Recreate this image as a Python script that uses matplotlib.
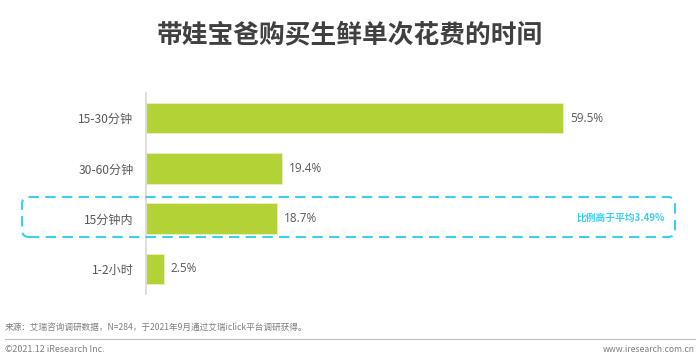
import matplotlib
matplotlib.use("Agg")
import matplotlib.pyplot as plt
from matplotlib.patches import FancyBboxPatch
from matplotlib.transforms import IdentityTransform

plt.rcParams['font.family'] = ['Noto Sans CJK SC', 'DejaVu Sans']

# ── data ─────────────────────────────────────────────────────────────────────
categories = ["15-30分钟", "30-60分钟", "15分钟内", "1-2小时"]
values     = [59.5, 19.4, 18.7, 2.5]
highlight  = "15分钟内"
note       = "比例高于平均3.49%"

TITLE  = "带娃宝爸购买生鲜单次花费的时间"
SOURCE = "来源：艾瑞咨询调研数据，N=284，于2021年9月通过艾瑞iclick平台调研获得。"

BAR_COLOR  = "#B2D235"
TEXT_COLOR = "#595959"
CYAN       = "#3CCFF2"

W, H = 700, 362
fig = plt.figure(figsize=(W / 100, H / 100), dpi=100)

# axes: x 146..680 px, y 93..294 px (from top)
ax_l, ax_r, ax_t, ax_b = 146, 680, 93, 294
ax = fig.add_axes([ax_l / W, 1 - ax_b / H, (ax_r - ax_l) / W, (ax_b - ax_t) / H])

px_per_pct = 417 / 59.5
ypos = list(range(len(categories)))
ax.barh(ypos, values, height=0.61, color=BAR_COLOR, edgecolor="#E8F2C4",
        linewidth=0.6, zorder=2)
ax.set_xlim(0, (ax_r - ax_l) / px_per_pct)
ax.set_ylim(len(categories) - 0.5, -0.5)

for y, v in zip(ypos, values):
    ax.text(v + 1.0, y, f"{v}%", va="center", ha="left",
            fontsize=8.5, color=TEXT_COLOR, family=["Open Sans", "DejaVu Sans"])

ax.set_yticks(ypos)
ax.set_yticklabels(categories, fontsize=8.7, color=TEXT_COLOR)
ax.tick_params(axis="y", length=0, pad=9)
ax.set_xticks([])
for s in ["top", "right", "bottom"]:
    ax.spines[s].set_visible(False)
ax.spines["left"].set_color("#D9D9D9")
ax.spines["left"].set_linewidth(1.2)

# title
fig.text(0.5, 1 - 35 / H, TITLE, ha="center", va="center",
         fontsize=18.5, fontweight="bold", color="#404040")

# highlight box around "15分钟内"
box = FancyBboxPatch((22, H - 237), 653, 40,
                     boxstyle="round,pad=0,rounding_size=7",
                     transform=IdentityTransform(), fill=False,
                     edgecolor=CYAN, linewidth=1.5, linestyle=(0, (5, 3)),
                     zorder=5)
fig.patches.append(box)
fig.text(665 / W, 1 - 218 / H, note, ha="right", va="center",
         fontsize=7, fontweight="bold", color=CYAN)

# footer
fig.text(5 / W, 1 - 327 / H, SOURCE, ha="left", va="center",
         fontsize=6.2, color="#7F7F7F")
fig.add_artist(plt.Line2D([5 / W, 695 / W], [1 - 339 / H, 1 - 339 / H],
                          color="#BFBFBF", linewidth=0.8))
fig.text(5 / W, 1 - 349 / H, "©2021.12 iResearch Inc.", ha="left", va="center",
         fontsize=6.4, color="#7F7F7F")
fig.text(695 / W, 1 - 349 / H, "www.iresearch.com.cn", ha="right", va="center",
         fontsize=6.2, color="#7F7F7F")

fig.savefig("out.png", dpi=100)
